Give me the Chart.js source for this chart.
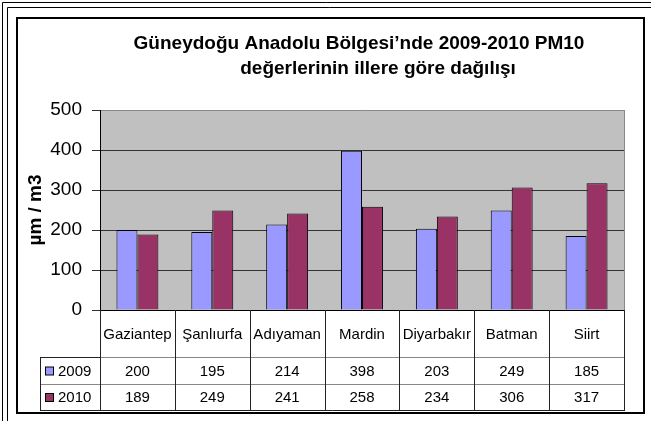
<!DOCTYPE html>
<html>
<head>
<meta charset="utf-8">
<script src="https://cdn.jsdelivr.net/npm/chart.js@4.4.1/dist/chart.umd.min.js"></script>
<style>
  html, body { margin: 0; padding: 0; background: #fff; }
  #wrap { width: 651px; height: 421px; }
</style>
</head>
<body>
<div id="wrap"><canvas id="pm10"></canvas></div>
<script>
const cities = ["Gaziantep", "Şanlıurfa", "Adıyaman", "Mardin", "Diyarbakır", "Batman", "Siirt"];
const values2009 = [200, 195, 214, 398, 203, 249, 185];
const values2010 = [189, 249, 241, 258, 234, 306, 317];
const yTicks = [0, 100, 200, 300, 400, 500];
const titleLines = ["Güneydoğu Anadolu Bölgesi’nde 2009-2010 PM10", "değerlerinin illere göre dağılışı"];
const yTitle = "µm / m3";

const FONT = "'Liberation Sans', Arial, sans-serif";
const BLUE = "#9999ff";
const MAROON = "#993366";

// frame, grey plot area, title and the data table under the x axis
const frameAndTable = {
  id: "frameAndTable",
  beforeDraw(chart) {
    const ctx = chart.ctx;
    const a = chart.chartArea;
    ctx.save();
    ctx.fillStyle = "#fff";
    ctx.fillRect(0, 0, chart.width, chart.height);
    ctx.strokeStyle = "#000";
    ctx.lineWidth = 1;
    ctx.beginPath();
    ctx.moveTo(2.5, chart.height); ctx.lineTo(2.5, 2.5); ctx.lineTo(chart.width, 2.5);
    ctx.moveTo(7.5, chart.height); ctx.lineTo(7.5, 7.5); ctx.lineTo(chart.width, 7.5);
    ctx.stroke();
    ctx.lineWidth = 2;
    ctx.strokeRect(17, 18, 627, 395);
    ctx.fillStyle = "#c0c0c0";
    ctx.fillRect(a.left, a.top, a.right - a.left, a.bottom - a.top);
    ctx.strokeStyle = "#888";
    ctx.lineWidth = 1;
    ctx.beginPath();
    ctx.moveTo(a.right + 0.5, a.top); ctx.lineTo(a.right + 0.5, a.bottom);
    ctx.stroke();
    ctx.restore();
  },
  afterDraw(chart) {
    const ctx = chart.ctx;
    const a = chart.chartArea;
    const x = chart.scales.x;
    ctx.save();

    // title
    ctx.fillStyle = "#000";
    ctx.font = "bold 19px " + FONT;
    ctx.textAlign = "center";
    ctx.textBaseline = "middle";
    ctx.fillText(titleLines[0], 359, 44);
    ctx.fillText(titleLines[1], 378, 69);

    // table
    const row1 = a.bottom + 47, row2 = row1 + 27, rowBot = row2 + 26;
    const legLeft = 40;
    const edges = [a.left];
    for (let i = 1; i < cities.length; i++) {
      edges.push((x.getPixelForValue(i - 1) + x.getPixelForValue(i)) / 2);
    }
    edges.push(a.right);

    ctx.lineWidth = 1;
    ctx.strokeStyle = "#888";
    ctx.beginPath();
    ctx.moveTo(legLeft, row2 + 0.5); ctx.lineTo(a.right, row2 + 0.5);
    ctx.moveTo(a.left, row1 + 0.5); ctx.lineTo(a.right, row1 + 0.5);
    ctx.stroke();
    ctx.strokeStyle = "#222";
    ctx.beginPath();
    edges.forEach(e => {
      const px = Math.round(e) + 0.5;
      ctx.moveTo(px, a.bottom); ctx.lineTo(px, rowBot);
    });
    ctx.moveTo(legLeft + 0.5, row1); ctx.lineTo(legLeft + 0.5, rowBot);
    ctx.moveTo(legLeft, row1 + 0.5); ctx.lineTo(a.left, row1 + 0.5);
    ctx.moveTo(legLeft, rowBot + 0.5); ctx.lineTo(a.right + 1, rowBot + 0.5);
    ctx.stroke();

    ctx.font = "15px " + FONT;
    ctx.fillStyle = "#000";
    ctx.textAlign = "center";
    const rows = [[values2009, row1, row2], [values2010, row2, rowBot]];
    cities.forEach((c, i) => {
      const cx = (edges[i] + edges[i + 1]) / 2;
      ctx.fillText(c, cx, (a.bottom + row1) / 2 + 1);
      rows.forEach(r => ctx.fillText(String(r[0][i]), cx, (r[1] + r[2]) / 2 + 1));
    });

    // legend keys inside the table
    const keys = [["2009", BLUE, row1, row2], ["2010", MAROON, row2, rowBot]];
    ctx.textAlign = "left";
    keys.forEach(k => {
      const cy = (k[2] + k[3]) / 2;
      ctx.fillStyle = k[1];
      ctx.fillRect(45.5, cy - 3.5, 8, 8);
      ctx.strokeStyle = "#000";
      ctx.strokeRect(45.5, cy - 3.5, 8, 8);
      ctx.fillStyle = "#000";
      ctx.fillText(k[0], 58, cy + 1);
    });
    ctx.restore();
  }
};

new Chart(document.getElementById("pm10"), {
  type: "bar",
  data: {
    labels: cities,
    datasets: [
      { label: "2009", data: values2009, backgroundColor: BLUE, borderColor: "#000", borderWidth: 1 },
      { label: "2010", data: values2010, backgroundColor: MAROON, borderColor: "#000", borderWidth: 1 },
    ],
  },
  options: {
    responsive: true,
    maintainAspectRatio: false,
    animation: false,
    layout: { padding: { top: 110, right: 27, left: 0, bottom: 0 } },
    plugins: { legend: { display: false }, tooltip: { enabled: false } },
    datasets: { bar: { categoryPercentage: 0.56, barPercentage: 1 } },
    scales: {
      x: {
        ticks: { display: false },
        grid: { display: false },
        border: { display: false },
        afterFit(s) { s.height = 111; },
      },
      y: {
        min: 0,
        max: 500,
        afterBuildTicks(s) { s.ticks = yTicks.map(v => ({ value: v })); },
        ticks: { padding: 10, color: "#000", font: { size: 19, family: FONT } },
        grid: {
          color: c => (c.tick && c.tick.value === 0 ? "#000" : c.tick && c.tick.value === 500 ? "#888" : "#333"),
          tickColor: "#333",
          tickLength: 8,
        },
        border: { color: "#000" },
        title: {
          display: true,
          text: yTitle,
          color: "#000",
          font: { size: 19, weight: "bold", family: FONT },
          padding: { top: 24, bottom: 0 },
        },
        afterFit(s) { s.width = 100; },
      },
    },
  },
  plugins: [frameAndTable],
});
</script>
</body>
</html>
